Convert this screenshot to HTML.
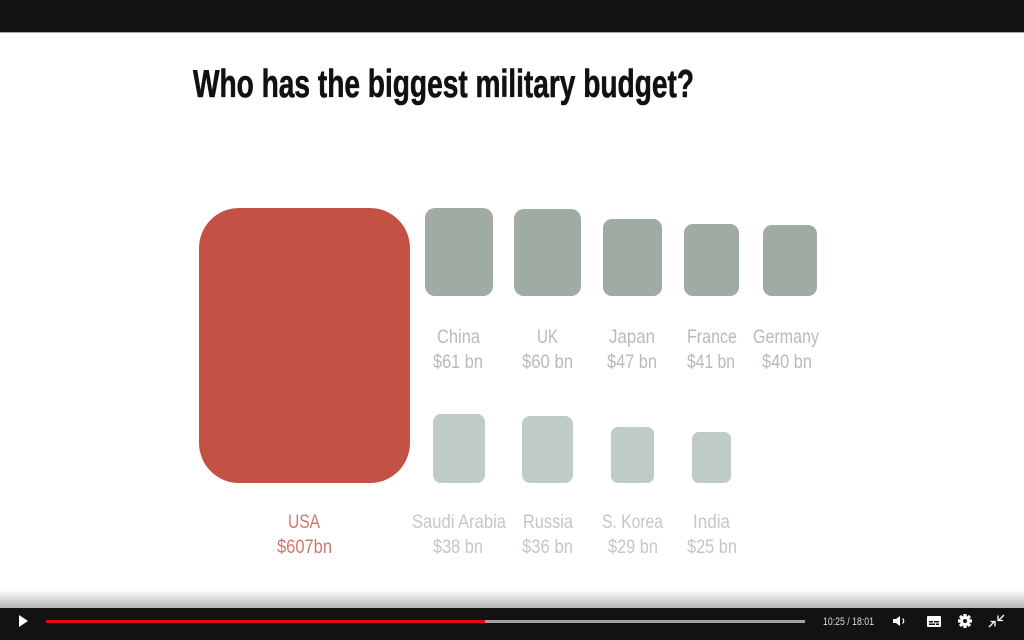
<!DOCTYPE html>
<html>
<head>
<meta charset="utf-8">
<style>
html,body{margin:0;padding:0;background:#fff;}
body{width:1024px;height:640px;overflow:hidden;}
svg{display:block;}
</style>
</head>
<body>
<svg width="1024" height="640" viewBox="0 0 1024 640" xmlns="http://www.w3.org/2000/svg">
  <defs>
    <linearGradient id="fade" x1="0" y1="0" x2="0" y2="1">
      <stop offset="0" stop-color="#ffffff"/>
      <stop offset="1" stop-color="#b4b4b4"/>
    </linearGradient>
  </defs>
  <rect x="0" y="0" width="1024" height="640" fill="#ffffff"/>
  <!-- top bar -->
  <rect x="0" y="0" width="1024" height="32" fill="#141414"/>
  <rect x="0" y="32" width="1024" height="1" fill="#a8a8a8"/>

  <!-- title -->
  <text x="193" y="97" font-family="'Liberation Sans', sans-serif" font-weight="bold" font-size="39" fill="#111" stroke="#111" stroke-width="0.6" textLength="501" lengthAdjust="spacingAndGlyphs">Who has the biggest military budget?</text>

  <!-- USA -->
  <rect x="199" y="208" width="211" height="275" rx="40" ry="40" fill="#c45244"/>

  <!-- top row -->
  <g fill="#a0aba3">
    <rect x="425" y="208" width="68" height="88" rx="10"/>
    <rect x="514" y="209" width="67" height="87" rx="10"/>
    <rect x="603" y="219" width="59" height="77" rx="9"/>
    <rect x="684" y="224" width="55" height="72" rx="9"/>
    <rect x="763" y="225" width="54" height="71" rx="9"/>
  </g>
  <!-- bottom row -->
  <g fill="#bfcbc6">
    <rect x="433" y="414" width="52" height="69" rx="8"/>
    <rect x="522" y="416" width="51" height="67" rx="8"/>
    <rect x="611" y="427" width="43" height="56" rx="7"/>
    <rect x="692" y="432" width="39" height="51" rx="7"/>
  </g>

  <!-- top labels -->
  <g font-family="'Liberation Sans', sans-serif" font-size="19.5" fill="#b6bbb9" text-anchor="middle">
    <text x="458.5" y="343" textLength="43" lengthAdjust="spacingAndGlyphs">China</text>
    <text x="458" y="368" textLength="50" lengthAdjust="spacingAndGlyphs">$61 bn</text>
    <text x="547.5" y="343" textLength="21" lengthAdjust="spacingAndGlyphs">UK</text>
    <text x="547.5" y="368" textLength="51" lengthAdjust="spacingAndGlyphs">$60 bn</text>
    <text x="632" y="343" textLength="46" lengthAdjust="spacingAndGlyphs">Japan</text>
    <text x="632" y="368" textLength="50" lengthAdjust="spacingAndGlyphs">$47 bn</text>
    <text x="712" y="343" textLength="50" lengthAdjust="spacingAndGlyphs">France</text>
    <text x="711" y="368" textLength="48" lengthAdjust="spacingAndGlyphs">$41 bn</text>
    <text x="786" y="343" textLength="66" lengthAdjust="spacingAndGlyphs">Germany</text>
    <text x="787" y="368" textLength="50" lengthAdjust="spacingAndGlyphs">$40 bn</text>
  </g>

  <!-- bottom labels -->
  <g font-family="'Liberation Sans', sans-serif" font-size="19.5" text-anchor="middle">
    <text x="304" y="528" fill="#d0776c" textLength="32" lengthAdjust="spacingAndGlyphs">USA</text>
    <text x="304.5" y="553" fill="#d0776c" textLength="55" lengthAdjust="spacingAndGlyphs">$607bn</text>
    <g fill="#c3c7c6">
      <text x="459" y="528" textLength="94" lengthAdjust="spacingAndGlyphs">Saudi Arabia</text>
      <text x="458" y="553" textLength="50" lengthAdjust="spacingAndGlyphs">$38 bn</text>
      <text x="548" y="528" textLength="50" lengthAdjust="spacingAndGlyphs">Russia</text>
      <text x="547.5" y="553" textLength="51" lengthAdjust="spacingAndGlyphs">$36 bn</text>
      <text x="632.5" y="528" textLength="61" lengthAdjust="spacingAndGlyphs">S. Korea</text>
      <text x="633" y="553" textLength="50" lengthAdjust="spacingAndGlyphs">$29 bn</text>
      <text x="711.5" y="528" textLength="37" lengthAdjust="spacingAndGlyphs">India</text>
      <text x="712" y="553" textLength="50" lengthAdjust="spacingAndGlyphs">$25 bn</text>
    </g>
  </g>

  <!-- player bottom -->
  <rect x="0" y="590" width="1024" height="18" fill="url(#fade)"/>
  <rect x="0" y="608" width="1024" height="32" fill="#121212"/>
  <!-- play -->
  <polygon points="19,615 19,627 28,621" fill="#ffffff"/>
  <!-- progress -->
  <rect x="46" y="620" width="759" height="3" fill="#a3a3a3"/>
  <rect x="46" y="620" width="439" height="3" fill="#e50914"/>
  <!-- time -->
  <text x="823" y="625" font-family="'Liberation Sans', sans-serif" font-size="11" fill="#dddddd" textLength="51" lengthAdjust="spacingAndGlyphs">10:25 / 18:01</text>
  <!-- volume -->
  <polygon points="893,619 896,619 900,616 900,626 896,623 893,623" fill="#ffffff"/>
  <path d="M902.5,618.5 Q905,621 902.5,623.5" stroke="#ffffff" stroke-width="1.2" fill="none"/>
  <!-- captions -->
  <rect x="927" y="616" width="14" height="11" rx="1" fill="#ffffff"/>
  <rect x="929" y="621" width="4" height="1.5" fill="#121212"/>
  <rect x="934" y="621" width="5" height="1.5" fill="#121212"/>
  <rect x="929" y="623.5" width="6" height="1.5" fill="#121212"/>
  <rect x="936" y="623.5" width="3" height="1.5" fill="#121212"/>
  <!-- gear -->
  <g transform="translate(965,621)" fill="#ffffff">
    <circle r="5"/>
    <rect x="-1.6" y="-7" width="3.2" height="14"/>
    <rect x="-7" y="-1.6" width="14" height="3.2"/>
    <rect x="-1.6" y="-7" width="3.2" height="14" transform="rotate(45)"/>
    <rect x="-1.6" y="-7" width="3.2" height="14" transform="rotate(-45)"/>
    <circle r="2" fill="#121212"/>
  </g>
  <!-- exit fullscreen -->
  <g stroke="#ffffff" stroke-width="1.3" fill="none">
    <path d="M999,620 L1004,615"/>
    <path d="M998,615.5 L998,620.5 L1003,620.5"/>
    <path d="M994,622 L989,627"/>
    <path d="M990.5,621.5 L995,621.5 L995,626.5"/>
  </g>
</svg>
</body>
</html>
